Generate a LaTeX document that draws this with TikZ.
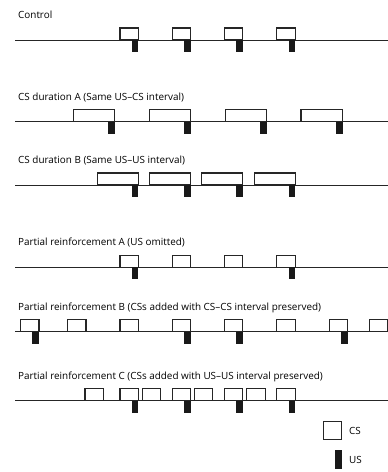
\documentclass[tikz,border=0pt]{standalone}
\usepackage{fontspec}
\setmainfont{Open Sans}
\begin{document}
\begin{tikzpicture}[x=1pt, y=-1pt,
  title/.style={anchor=base west, inner sep=0pt, font=\fontsize{9.9}{11}\selectfont},
  key/.style={anchor=west, inner sep=0pt, font=\fontsize{9.9}{11}\selectfont},
  timeline/.style={line width=0.9pt, black!85},
  csbox/.style={draw=black!85, line width=1.1pt},
  usbar/.style={fill=black!90}]
\useasboundingbox[fill=white] (0,0) rectangle (388,472);

% Control
\node[title] (control) at (18,18.3) {Control};
\draw[timeline] (15,40) -- (388,40);
\draw[csbox] (120,28) rectangle +(18.3,12);
\draw[csbox] (172.3,28) rectangle +(18.3,12);
\draw[csbox] (224.6,28) rectangle +(18.3,12);
\draw[csbox] (276.9,28) rectangle +(18.3,12);
\fill[usbar] (131.6,40) rectangle +(6.7,12);
\fill[usbar] (183.9,40) rectangle +(6.7,12);
\fill[usbar] (236.2,40) rectangle +(6.7,12);
\fill[usbar] (288.5,40) rectangle +(6.7,12);

% CS duration A
\node[title] (durA) at (18,100) {CS duration A (Same US--CS interval)};
\draw[timeline] (15,121.7) -- (388,121.7);
\draw[csbox] (73.3,109.7) rectangle +(41.5,12);
\draw[csbox] (149.2,109.7) rectangle +(41.5,12);
\draw[csbox] (225.1,109.7) rectangle +(41.5,12);
\draw[csbox] (301,109.7) rectangle +(41.5,12);
\fill[usbar] (108.1,121.7) rectangle +(6.7,12);
\fill[usbar] (184,121.7) rectangle +(6.7,12);
\fill[usbar] (259.9,121.7) rectangle +(6.7,12);
\fill[usbar] (335.8,121.7) rectangle +(6.7,12);

% CS duration B
\node[title] (durB) at (18,163.3) {CS duration B (Same US--US interval)};
\draw[timeline] (15,185) -- (388,185);
\draw[csbox] (97.3,173) rectangle +(41,12);
\draw[csbox] (149.6,173) rectangle +(41,12);
\draw[csbox] (201.9,173) rectangle +(41,12);
\draw[csbox] (254.2,173) rectangle +(41,12);
\fill[usbar] (131.6,185) rectangle +(6.7,12);
\fill[usbar] (183.9,185) rectangle +(6.7,12);
\fill[usbar] (236.2,185) rectangle +(6.7,12);
\fill[usbar] (288.5,185) rectangle +(6.7,12);

% Partial reinforcement A
\node[title] (partA) at (18,245.6) {Partial reinforcement A (US omitted)};
\draw[timeline] (15,267.3) -- (388,267.3);
\draw[csbox] (120,255.3) rectangle +(18.3,12);
\draw[csbox] (172.3,255.3) rectangle +(18.3,12);
\draw[csbox] (224.6,255.3) rectangle +(18.3,12);
\draw[csbox] (276.9,255.3) rectangle +(18.3,12);
\fill[usbar] (131.6,267.3) rectangle +(6.7,12);
\fill[usbar] (288.5,267.3) rectangle +(6.7,12);

% Partial reinforcement B
\node[title] (partB) at (18,310) {Partial reinforcement B (CSs added with CS--CS interval preserved)};
\draw[timeline] (15,331.7) -- (388,331.7);
\draw[csbox] (20.7,319.7) rectangle +(18.3,12);
\draw[csbox] (67.7,319.7) rectangle +(18.3,12);
\draw[csbox] (120,319.7) rectangle +(18.3,12);
\draw[csbox] (172.3,319.7) rectangle +(18.3,12);
\draw[csbox] (224.6,319.7) rectangle +(18.3,12);
\draw[csbox] (276.9,319.7) rectangle +(18.3,12);
\draw[csbox] (329.3,319.7) rectangle +(18.3,12);
\draw[csbox] (369.6,319.7) rectangle +(18.3,12);
\fill[usbar] (32.3,331.7) rectangle +(6.7,12);
\fill[usbar] (183.9,331.7) rectangle +(6.7,12);
\fill[usbar] (236.2,331.7) rectangle +(6.7,12);
\fill[usbar] (340.9,331.7) rectangle +(6.7,12);

% Partial reinforcement C
\node[title] (partC) at (18,379) {Partial reinforcement C (CSs added with US--US interval preserved)};
\draw[timeline] (15,400.7) -- (388,400.7);
\draw[csbox] (85,388.7) rectangle +(18.3,12);
\draw[csbox] (120,388.7) rectangle +(18.3,12);
\draw[csbox] (142.3,388.7) rectangle +(18.3,12);
\draw[csbox] (172.3,388.7) rectangle +(18.3,12);
\draw[csbox] (194.6,388.7) rectangle +(18.3,12);
\draw[csbox] (224.6,388.7) rectangle +(18.3,12);
\draw[csbox] (246.9,388.7) rectangle +(18.3,12);
\draw[csbox] (276.9,388.7) rectangle +(18.3,12);
\fill[usbar] (131.6,400.7) rectangle +(6.7,12);
\fill[usbar] (183.9,400.7) rectangle +(6.7,12);
\fill[usbar] (236.2,400.7) rectangle +(6.7,12);
\fill[usbar] (288.5,400.7) rectangle +(6.7,12);

% Legend
\draw[csbox] (323.3,421.7) rectangle (341.7,439.3);
\node[key] (cskey) at (349,431) {CS};
\fill[usbar] (335,450) rectangle (341.7,469.3);
\node[key] (uskey) at (349,460) {US};
\end{tikzpicture}
\end{document}
